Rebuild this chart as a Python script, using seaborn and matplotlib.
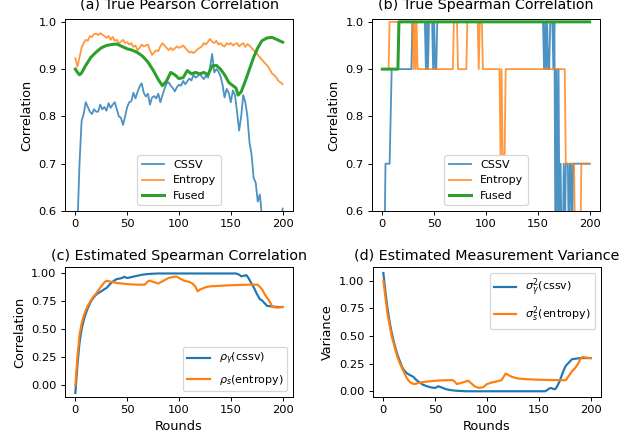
import numpy as np
import pandas as pd
import seaborn as sns
from matplotlib import pyplot as plt

# ---- (a) true Pearson correlation, sampled every 2 rounds ----
rounds_a = list(range(0, 201, 2))
cssv_a = [
    0.45, 0.57, 0.70, 0.79, 0.805, 0.83, 0.82, 0.81, 0.805, 0.815,
    0.81, 0.81, 0.825, 0.815, 0.82, 0.812, 0.828, 0.818, 0.825, 0.83,
    0.815, 0.80, 0.797, 0.782, 0.80, 0.82, 0.83, 0.832, 0.85, 0.838,
    0.852, 0.863, 0.87, 0.85, 0.842, 0.848, 0.825, 0.84, 0.843, 0.838,
    0.848, 0.83, 0.845, 0.858, 0.87, 0.872, 0.865, 0.86, 0.853, 0.862,
    0.867, 0.865, 0.875, 0.868, 0.874, 0.88, 0.876, 0.888, 0.882, 0.885,
    0.89, 0.884, 0.879, 0.886, 0.882, 0.905, 0.932, 0.893, 0.90, 0.895,
    0.885, 0.867, 0.84, 0.858, 0.85, 0.83, 0.855, 0.845, 0.81, 0.77,
    0.80, 0.845, 0.83, 0.80, 0.745, 0.72, 0.67, 0.66, 0.62, 0.635,
    0.59, 0.56, 0.52, 0.50, 0.49, 0.48, 0.49, 0.47, 0.50, 0.55,
    0.605,
]
entropy_a = [
    0.923, 0.905, 0.925, 0.945, 0.955, 0.962, 0.96, 0.97, 0.968, 0.974,
    0.975, 0.972, 0.976, 0.973, 0.97, 0.966, 0.97, 0.962, 0.968, 0.96,
    0.962, 0.955, 0.958, 0.962, 0.955, 0.957, 0.952, 0.955, 0.947, 0.95,
    0.94, 0.945, 0.952, 0.948, 0.95, 0.952, 0.94, 0.93, 0.935, 0.94,
    0.938, 0.948, 0.955, 0.95, 0.945, 0.94, 0.945, 0.94, 0.944, 0.948,
    0.945, 0.947, 0.95, 0.945, 0.94, 0.935, 0.937, 0.934, 0.938, 0.942,
    0.945, 0.948, 0.955, 0.952, 0.958, 0.964, 0.958, 0.955, 0.96, 0.952,
    0.955, 0.95, 0.948, 0.955, 0.952, 0.955, 0.95, 0.953, 0.955, 0.948,
    0.952, 0.955, 0.947, 0.953, 0.95, 0.945, 0.94, 0.935, 0.93, 0.925,
    0.92, 0.915, 0.91, 0.905, 0.898, 0.89, 0.887, 0.882, 0.875, 0.872,
    0.868,
]
fused_rounds_a = [0, 2, 4, 6, 8, 10, 15, 20, 25, 30, 35, 40, 45, 50, 55, 60, 65,
                  70, 75, 80, 84, 88, 92, 96, 100, 104, 108, 112, 116, 120, 124,
                  128, 132, 136, 140, 144, 148, 152, 155, 157, 160, 164, 168, 172,
                  176, 180, 185, 190, 195, 200]
fused_a = [0.90, 0.893, 0.888, 0.892, 0.90, 0.908, 0.925, 0.936, 0.945, 0.95,
           0.952, 0.953, 0.948, 0.943, 0.94, 0.935, 0.927, 0.915, 0.898, 0.878,
           0.865, 0.875, 0.893, 0.888, 0.88, 0.882, 0.897, 0.89, 0.893, 0.89,
           0.893, 0.888, 0.907, 0.908, 0.90, 0.888, 0.872, 0.865, 0.86, 0.845,
           0.852, 0.875, 0.90, 0.925, 0.945, 0.96, 0.966, 0.967, 0.962, 0.957]

# ---- (b) true Spearman correlation (vertices of the step-like traces) ----
cssv_rounds_b = [0, 2, 3, 7, 9, 28, 29, 41, 42, 43, 44, 45, 48, 49, 50, 51, 52,
                 53, 155, 156, 157, 158, 159, 160, 161, 162, 164, 165, 166, 167,
                 168, 169, 170, 171, 172, 173, 174, 175, 176, 177, 179, 180, 181,
                 182, 183, 184, 200]
cssv_b = [0.5, 0.5, 0.7, 0.7, 0.9, 0.9, 1.0, 1.0, 0.9, 1.0, 0.9, 1.0, 1.0, 0.9,
          1.0, 0.9, 0.9, 1.0, 1.0, 0.9, 1.0, 0.9, 1.0, 0.9, 0.9, 1.0, 1.0, 0.9,
          1.0, 0.5, 0.9, 0.5, 0.9, 0.5, 0.7, 0.5, 0.5, 0.7, 0.5, 0.7, 0.7, 0.5,
          0.7, 0.7, 0.5, 0.7, 0.7]
entropy_rounds_b = [0, 6, 7, 29, 30, 31, 32, 33, 34, 68, 69, 72, 73, 81, 82, 92,
                    93, 94, 96, 97, 113, 114, 115, 116, 118, 119, 176, 177, 185,
                    186, 191, 192, 200]
entropy_b = [0.9, 0.9, 1.0, 1.0, 0.9, 1.0, 0.9, 1.0, 0.9, 0.9, 1.0, 1.0, 0.9,
             0.9, 1.0, 1.0, 0.9, 1.0, 1.0, 0.9, 0.9, 0.72, 0.9, 0.72, 0.72, 0.9,
             0.9, 0.7, 0.7, 0.5, 0.5, 0.7, 0.7]
fused_rounds_b = [0, 15, 16, 200]
fused_b = [0.9, 0.9, 1.0, 1.0]

# ---- (c) estimated Spearman correlation ----
rho_y_rounds = [0, 2, 4, 6, 8, 10, 12, 15, 18, 20, 23, 25, 28, 30, 33, 35, 38,
                40, 43, 45, 47, 50, 53, 55, 60, 65, 70, 75, 80, 90, 100, 120,
                140, 150, 155, 158, 160, 163, 165, 167, 170, 173, 175, 178, 180,
                182, 185, 190, 195, 200]
rho_y = [-0.07, 0.18, 0.38, 0.50, 0.58, 0.64, 0.69, 0.75, 0.79, 0.81, 0.83, 0.84,
         0.86, 0.87, 0.90, 0.92, 0.94, 0.95, 0.955, 0.96, 0.97, 0.96, 0.965, 0.97,
         0.98, 0.99, 0.995, 0.998, 1.0, 1.0, 1.0, 1.0, 1.0, 1.0, 1.0, 0.99, 0.975,
         0.98, 0.985, 0.96, 0.91, 0.86, 0.82, 0.77, 0.76, 0.74, 0.71, 0.705, 0.70,
         0.70]
rho_s_rounds = [0, 2, 4, 6, 8, 10, 12, 15, 18, 20, 23, 25, 28, 30, 35, 40, 45,
                50, 55, 60, 67, 70, 72, 75, 80, 85, 90, 95, 98, 100, 105, 110,
                113, 116, 118, 120, 125, 130, 140, 150, 160, 170, 176, 180, 183,
                186, 188, 190, 195, 200]
rho_s = [0.0, 0.25, 0.45, 0.55, 0.62, 0.67, 0.71, 0.76, 0.80, 0.82, 0.86, 0.885,
         0.92, 0.935, 0.925, 0.915, 0.91, 0.905, 0.902, 0.90, 0.90, 0.93, 0.935,
         0.925, 0.91, 0.935, 0.96, 0.97, 0.972, 0.96, 0.935, 0.925, 0.91, 0.88,
         0.84, 0.855, 0.875, 0.885, 0.89, 0.895, 0.898, 0.90, 0.90, 0.86, 0.81,
         0.77, 0.74, 0.70, 0.695, 0.70]

# ---- (d) estimated measurement variance ----
var_y_rounds = [0, 2, 4, 6, 8, 10, 12, 14, 16, 18, 20, 23, 26, 29, 32, 35, 38,
                42, 46, 50, 53, 56, 60, 65, 70, 80, 90, 100, 120, 140, 156, 158,
                160, 162, 164, 166, 168, 170, 172, 174, 176, 178, 180, 182, 186,
                190, 195, 200]
var_y = [1.07, 0.90, 0.75, 0.63, 0.53, 0.45, 0.38, 0.32, 0.27, 0.22, 0.19, 0.16,
         0.145, 0.13, 0.10, 0.08, 0.06, 0.045, 0.035, 0.03, 0.045, 0.035, 0.02,
         0.01, 0.005, 0.0, 0.0, 0.0, 0.0, 0.0, 0.0, 0.01, 0.025, 0.03, 0.02, 0.02,
         0.05, 0.09, 0.14, 0.19, 0.23, 0.25, 0.27, 0.29, 0.295, 0.30, 0.30, 0.30]
var_s_rounds = [0, 2, 4, 6, 8, 10, 12, 14, 16, 18, 20, 22, 24, 26, 28, 30, 34,
                40, 45, 50, 55, 60, 67, 69, 71, 75, 80, 82, 85, 88, 92, 96, 100,
                105, 110, 114, 116, 118, 121, 124, 130, 140, 150, 160, 170, 176,
                179, 182, 185, 188, 190, 192, 195, 200]
var_s = [1.0, 0.85, 0.70, 0.60, 0.50, 0.43, 0.36, 0.30, 0.25, 0.21, 0.17, 0.13,
         0.10, 0.08, 0.07, 0.065, 0.075, 0.085, 0.09, 0.095, 0.098, 0.10, 0.10,
         0.085, 0.065, 0.075, 0.09, 0.095, 0.07, 0.045, 0.03, 0.035, 0.065, 0.08,
         0.09, 0.10, 0.13, 0.16, 0.145, 0.13, 0.115, 0.108, 0.104, 0.102, 0.10,
         0.10, 0.14, 0.18, 0.21, 0.25, 0.29, 0.31, 0.305, 0.30]

plt.rcParams.update({
    "xtick.labelsize": 9.5,
    "ytick.labelsize": 9.5,
    "axes.labelsize": 10.7,
    "axes.titlesize": 11.8,
    "legend.fontsize": 9.2,
})

DPI = 87
fig = plt.figure(figsize=(639 / DPI, 442 / DPI), dpi=DPI)
W, H = 639, 442


def box(left, top, right, bottom):
    return [left / W, 1 - bottom / H, (right - left) / W, (bottom - top) / H]


ax_a = fig.add_axes(box(65, 19, 293, 211))
ax_b = fig.add_axes(box(372, 19, 600, 211))
ax_c = fig.add_axes(box(65, 267, 293, 397))
ax_d = fig.add_axes(box(373, 267, 601, 397))

kw = dict(estimator=None, sort=False)

# (a)
sns.lineplot(x=rounds_a, y=cssv_a, ax=ax_a, color="C0", lw=1.5, alpha=0.8, label="CSSV", **kw)
sns.lineplot(x=rounds_a, y=entropy_a, ax=ax_a, color="C1", lw=1.5, alpha=0.8, label="Entropy", **kw)
sns.lineplot(x=fused_rounds_a, y=fused_a, ax=ax_a, color="C2", lw=2.5, label="Fused", **kw)
ax_a.set_ylim(0.6, 1.006)
ax_a.set_title("(a) True Pearson Correlation", pad=8.5)
ax_a.legend(loc="lower center")

# (b)
sns.lineplot(x=cssv_rounds_b, y=cssv_b, ax=ax_b, color="C0", lw=1.5, alpha=0.8, label="CSSV", **kw)
sns.lineplot(x=entropy_rounds_b, y=entropy_b, ax=ax_b, color="C1", lw=1.5, alpha=0.8, label="Entropy", **kw)
sns.lineplot(x=fused_rounds_b, y=fused_b, ax=ax_b, color="C2", lw=2.5, label="Fused", **kw)
ax_b.set_ylim(0.6, 1.006)
ax_b.set_title("(b) True Spearman Correlation", pad=8.5)
ax_b.legend(loc="lower center")

for ax in (ax_a, ax_b):
    ax.set_xlim(-10, 210)
    ax.set_ylabel("Correlation")
    ax.set_yticks([0.6, 0.7, 0.8, 0.9, 1.0])

# (c)
sns.lineplot(x=rho_y_rounds, y=rho_y, ax=ax_c, color="C0", lw=1.8, label=r"$\rho_\gamma$(cssv)", **kw)
sns.lineplot(x=rho_s_rounds, y=rho_s, ax=ax_c, color="C1", lw=1.8, label=r"$\rho_s$(entropy)", **kw)
ax_c.set_ylim(-0.105, 1.058)
ax_c.set_title("(c) Estimated Spearman Correlation")
ax_c.set_ylabel("Correlation")
ax_c.legend(loc="lower right")

# (d)
sns.lineplot(x=var_y_rounds, y=var_y, ax=ax_d, color="C0", lw=1.8, label=r"$\sigma^2_\gamma$(cssv)", **kw)
sns.lineplot(x=var_s_rounds, y=var_s, ax=ax_d, color="C1", lw=1.8, label=r"$\sigma^2_s$(entropy)", **kw)
ax_d.set_ylim(-0.052, 1.124)
ax_d.set_title("(d) Estimated Measurement Variance")
ax_d.set_ylabel("Variance")
ax_d.legend(loc="upper right")

for ax in (ax_c, ax_d):
    ax.set_xlim(-10, 210)
    ax.set_xlabel("Rounds")
    ax.set_yticks([0.0, 0.25, 0.5, 0.75, 1.0])

fig.savefig("out.png", dpi=DPI)
